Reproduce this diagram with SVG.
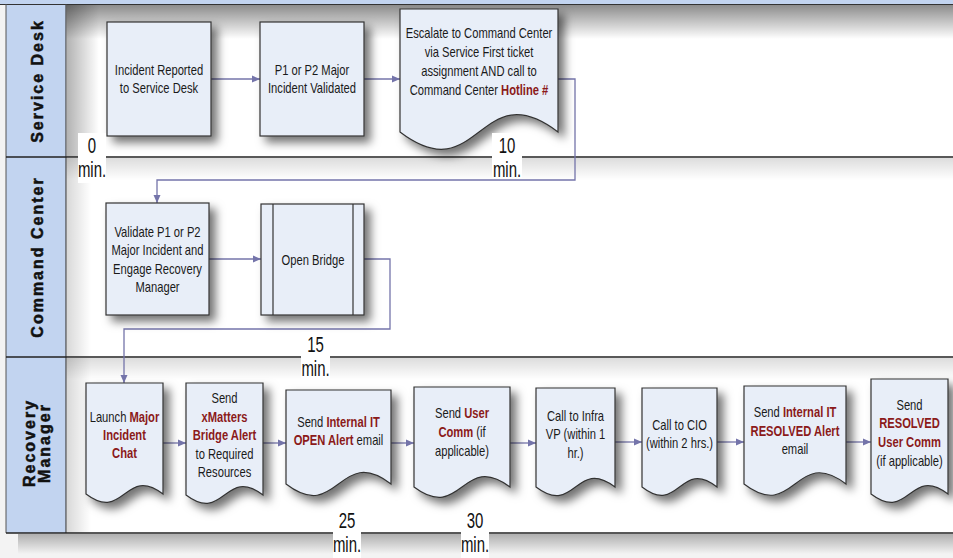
<svg xmlns="http://www.w3.org/2000/svg" width="953" height="558" viewBox="0 0 953 558">
<defs>
<style>
.nd{fill:#e8eef8;stroke:#333;stroke-width:1.2;filter:url(#sh)}
.t{font-family:"Liberation Sans",Arial,sans-serif;font-size:14px;fill:#1a1a1a;text-anchor:middle}
.r{fill:#8b1a1a;font-weight:bold}
.cn{fill:none;stroke:#7474aa;stroke-width:1.3;marker-end:url(#ar)}
.hd{font-family:"Liberation Sans",Arial,sans-serif;font-size:16px;font-weight:bold;letter-spacing:2px;fill:#111;stroke:#111;stroke-width:0.5;text-anchor:middle}
.tm{font-family:"Liberation Sans",Arial,sans-serif;font-size:22px;fill:#111;text-anchor:middle}
.lane{stroke:#222;stroke-width:1.5}
.lb{fill:#fff}
</style>
<filter id="sh" x="-25%" y="-25%" width="160%" height="160%"><feDropShadow dx="6" dy="6" stdDeviation="5" flood-color="#000" flood-opacity="0.55"/></filter>
<marker id="ar" markerWidth="8" markerHeight="8" refX="8" refY="4" orient="auto" markerUnits="userSpaceOnUse"><path d="M0,0.5 L8,4 L0,7.5z" fill="#7474aa"/></marker>
<linearGradient id="gt" x1="0" y1="0" x2="0" y2="1"><stop offset="0" stop-color="#000" stop-opacity="0.45"/><stop offset="1" stop-color="#000" stop-opacity="0"/></linearGradient>
<linearGradient id="gl" x1="0" y1="0" x2="1" y2="0"><stop offset="0" stop-color="#000" stop-opacity="0.3"/><stop offset="1" stop-color="#000" stop-opacity="0"/></linearGradient>
<linearGradient id="gb" x1="0" y1="0" x2="0" y2="1"><stop offset="0" stop-color="#000" stop-opacity="0.28"/><stop offset="1" stop-color="#000" stop-opacity="0"/></linearGradient>
</defs>

<g id="background">
<rect x="0" y="0" width="953" height="558" fill="#f3f3f3"/>
<rect x="6" y="4" width="947" height="529" fill="#fff"/>
<rect x="18" y="534" width="935" height="20" fill="url(#gb)"/>
<rect x="66" y="5" width="887" height="34" fill="url(#gt)"/>
<rect x="67" y="5" width="32" height="152" fill="url(#gl)"/>
<rect x="66" y="158" width="887" height="22" fill="url(#gt)" opacity="0.3"/>
<rect x="67" y="158" width="24" height="199" fill="url(#gl)" opacity="0.5"/>
<rect x="66" y="358" width="887" height="22" fill="url(#gt)" opacity="0.3"/>
<rect x="67" y="358" width="24" height="175" fill="url(#gl)" opacity="0.5"/>
<rect x="0" y="0" width="953" height="4" fill="#c2d4f0"/>
<rect x="6" y="5" width="60" height="528" fill="#c2d4f0"/>
<line x1="0" y1="4.5" x2="953" y2="4.5" stroke="#333" stroke-width="1.2"/>
<line x1="6" y1="4" x2="6" y2="533" stroke="#555" stroke-width="1"/>
<line x1="66" y1="4" x2="66" y2="533" stroke="#444" stroke-width="1.2"/>
<line class="lane" x1="6" y1="157" x2="953" y2="157"/>
<line class="lane" x1="6" y1="357" x2="953" y2="357"/>
<line class="lane" x1="6" y1="533" x2="953" y2="533"/>
</g>

<g id="lane-headers">
<text class="hd" transform="translate(43,81) rotate(-90)">Service Desk</text>
<text class="hd" transform="translate(43,257) rotate(-90)">Command Center</text>
<text class="hd" transform="translate(34.5,443) rotate(-90)">Recovery</text>
<text class="hd" transform="translate(49.5,443) rotate(-90)">Manager</text>
</g>

<g id="connectors">
<path class="cn" d="M211,79 H260"/>
<path class="cn" d="M364,79 H400"/>
<path class="cn" d="M558,79 H575 V180 H157 V203"/>
<path class="cn" d="M209,259 H261"/>
<path class="cn" d="M364,259 H390 V329 H124 V383"/>
<path class="cn" d="M163,443 H186"/>
<path class="cn" d="M263,443 H286"/>
<path class="cn" d="M391,443 H414"/>
<path class="cn" d="M510,443 H536"/>
<path class="cn" d="M615,442 H642"/>
<path class="cn" d="M717,442 H744"/>
<path class="cn" d="M846,442 H871"/>
</g>

<g id="n1">
<rect class="nd" x="107" y="22" width="104" height="114"/>
<text class="t" transform="translate(159,0) scale(0.8,1)"><tspan x="0" y="75">Incident Reported</tspan><tspan x="0" y="93">to Service Desk</tspan></text>
</g>
<g id="n2">
<rect class="nd" x="260" y="22" width="104" height="114"/>
<text class="t" transform="translate(312,0) scale(0.8,1)"><tspan x="0" y="75">P1 or P2 Major</tspan><tspan x="0" y="93">Incident Validated</tspan></text>
</g>
<g id="n3">
<path class="nd" d="M400,9 H558 V132 C479,72 479,192 400,132 Z"/>
<text class="t" transform="translate(479,0) scale(0.8,1)"><tspan x="0" y="38.5">Escalate to Command Center</tspan><tspan x="0" y="57.5">via Service First ticket</tspan><tspan x="0" y="76.5">assignment AND call to</tspan><tspan x="0" y="95.5">Command Center <tspan class="r">Hotline #</tspan></tspan></text>
</g>
<g id="n4">
<rect class="nd" x="106" y="203" width="103" height="112"/>
<text class="t" transform="translate(157.5,0) scale(0.8,1)"><tspan x="0" y="237">Validate P1 or P2</tspan><tspan x="0" y="255">Major Incident and</tspan><tspan x="0" y="274">Engage Recovery</tspan><tspan x="0" y="292">Manager</tspan></text>
</g>
<g id="n5">
<rect class="nd" x="261" y="204" width="103" height="111"/>
<line x1="273" y1="204" x2="273" y2="315" stroke="#333" stroke-width="1.2"/>
<line x1="353" y1="204" x2="353" y2="315" stroke="#333" stroke-width="1.2"/>
<text class="t" transform="translate(313,0) scale(0.8,1)"><tspan x="0" y="265">Open Bridge</tspan></text>
</g>
<g id="n6">
<path class="nd" d="M86,383 H163 V494 C124.5,465 124.5,523 86,494 Z"/>
<text class="t" transform="translate(124.5,0) scale(0.8,1)"><tspan x="0" y="422">Launch <tspan class="r">Major</tspan></tspan><tspan x="0" y="440" class="r">Incident</tspan><tspan x="0" y="458" class="r">Chat</tspan></text>
</g>
<g id="n7">
<path class="nd" d="M186,383 H263 V495 C224.5,466 224.5,524 186,495 Z"/>
<text class="t" transform="translate(224.5,0) scale(0.8,1)"><tspan x="0" y="403">Send</tspan><tspan x="0" y="422" class="r">xMatters</tspan><tspan x="0" y="440" class="r">Bridge Alert</tspan><tspan x="0" y="459">to Required</tspan><tspan x="0" y="477">Resources</tspan></text>
</g>
<g id="n8">
<path class="nd" d="M286,390 H391 V484 C338.5,444 338.5,524 286,484 Z"/>
<text class="t" transform="translate(338.5,0) scale(0.8,1)"><tspan x="0" y="427">Send <tspan class="r">Internal IT</tspan></tspan><tspan x="0" y="445"><tspan class="r">OPEN Alert</tspan> email</tspan></text>
</g>
<g id="n9">
<path class="nd" d="M414,387 H510 V487 C462,451 462,523 414,487 Z"/>
<text class="t" transform="translate(462,0) scale(0.8,1)"><tspan x="0" y="418">Send <tspan class="r">User</tspan></tspan><tspan x="0" y="437"><tspan class="r">Comm</tspan> (if</tspan><tspan x="0" y="456">applicable)</tspan></text>
</g>
<g id="n10">
<path class="nd" d="M536,388 H615 V487 C575.5,457 575.5,517 536,487 Z"/>
<text class="t" transform="translate(575.5,0) scale(0.8,1)"><tspan x="0" y="421">Call to Infra</tspan><tspan x="0" y="439">VP (within 1</tspan><tspan x="0" y="458">hr.)</tspan></text>
</g>
<g id="n11">
<path class="nd" d="M642,388 H717 V487 C679.5,458 679.5,516 642,487 Z"/>
<text class="t" transform="translate(679.5,0) scale(0.8,1)"><tspan x="0" y="430">Call to CIO</tspan><tspan x="0" y="448">(within 2 hrs.)</tspan></text>
</g>
<g id="n12">
<path class="nd" d="M744,386 H846 V484 C795,445 795,523 744,484 Z"/>
<text class="t" transform="translate(795,0) scale(0.8,1)"><tspan x="0" y="417">Send <tspan class="r">Internal IT</tspan></tspan><tspan x="0" y="436" class="r">RESOLVED Alert</tspan><tspan x="0" y="454">email</tspan></text>
</g>
<g id="n13">
<path class="nd" d="M871,379 H948 V494 C909.5,465 909.5,523 871,494 Z"/>
<text class="t" transform="translate(909.5,0) scale(0.8,1)"><tspan x="0" y="410">Send</tspan><tspan x="0" y="428" class="r">RESOLVED</tspan><tspan x="0" y="447" class="r">User Comm</tspan><tspan x="0" y="466">(if applicable)</tspan></text>
</g>

<g id="time-labels">
<rect class="lb" x="78" y="133" width="28" height="50"/>
<text class="tm" transform="translate(92,0) scale(0.68,1)"><tspan x="0" y="153">0</tspan><tspan x="0" y="177">min.</tspan></text>
<rect class="lb" x="492" y="133" width="30" height="45"/>
<text class="tm" transform="translate(507,0) scale(0.68,1)"><tspan x="0" y="153">10</tspan><tspan x="0" y="177">min.</tspan></text>
<rect class="lb" x="301" y="332" width="29" height="48"/>
<text class="tm" transform="translate(315.5,0) scale(0.68,1)"><tspan x="0" y="352">15</tspan><tspan x="0" y="376">min.</tspan></text>
<rect class="lb" x="333" y="510" width="28" height="48"/>
<text class="tm" transform="translate(347,0) scale(0.68,1)"><tspan x="0" y="528">25</tspan><tspan x="0" y="552">min.</tspan></text>
<rect class="lb" x="461" y="510" width="28" height="48"/>
<text class="tm" transform="translate(475,0) scale(0.68,1)"><tspan x="0" y="528">30</tspan><tspan x="0" y="552">min.</tspan></text>
</g>
</svg>
